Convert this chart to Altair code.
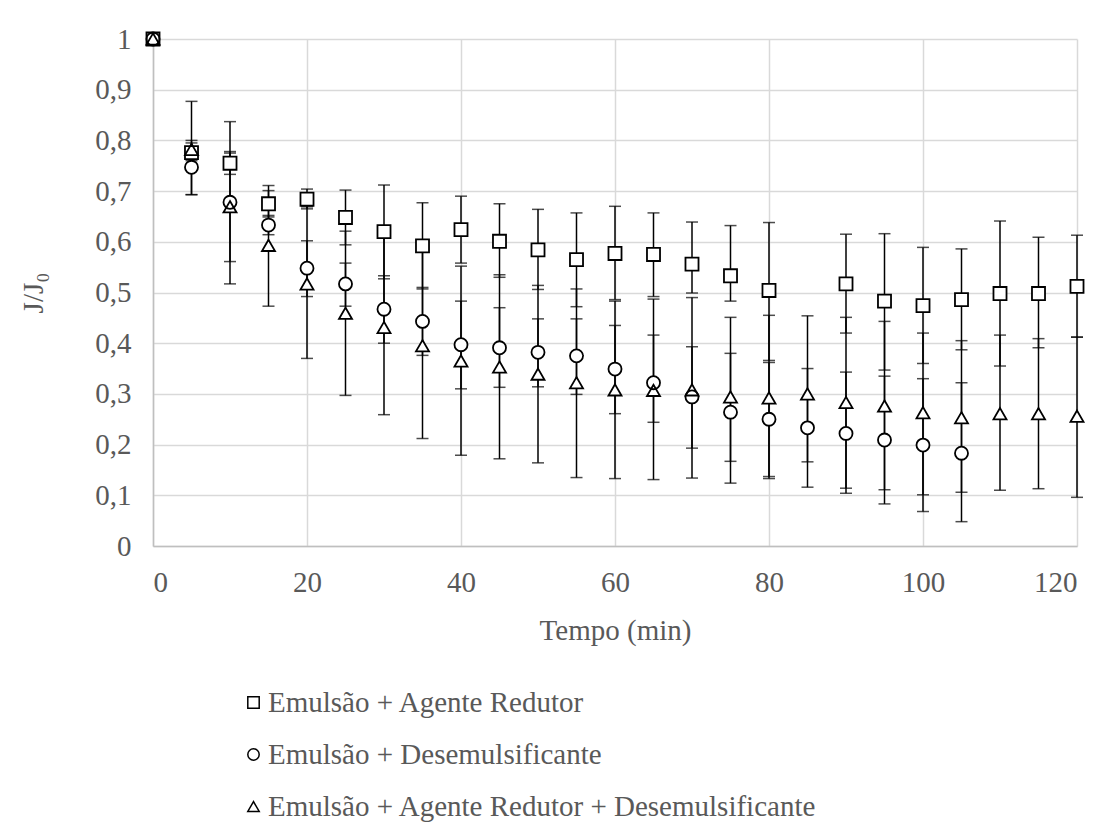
import altair as alt
import pandas as pd

series_names = [
    "Emulsão + Agente Redutor",
    "Emulsão + Desemulsificante",
    "Emulsão + Agente Redutor + Desemulsificante",
]

# Series 1: Emulsão + Agente Redutor (squares)
t1 = [0, 5, 10, 15, 20, 25, 30, 35, 40, 45, 50, 55, 60, 65, 70, 75, 80, 90, 95, 100, 105, 110, 115, 120]
v1 = [1.0, 0.776, 0.755, 0.675, 0.684, 0.648, 0.620, 0.592, 0.624, 0.601, 0.584, 0.565, 0.577, 0.575, 0.556, 0.533, 0.504, 0.517, 0.483, 0.474, 0.486, 0.498, 0.498, 0.512]
lo1 = [1.0, 0.760, 0.733, 0.649, 0.665, 0.594, 0.527, 0.507, 0.558, 0.530, 0.506, 0.472, 0.486, 0.492, 0.499, 0.483, 0.366, 0.420, 0.347, 0.360, 0.387, 0.355, 0.391, 0.412]
hi1 = [1.0, 0.795, 0.775, 0.701, 0.704, 0.702, 0.712, 0.677, 0.690, 0.675, 0.664, 0.657, 0.670, 0.657, 0.639, 0.632, 0.638, 0.615, 0.616, 0.589, 0.586, 0.641, 0.609, 0.613]

# Series 2: Emulsão + Desemulsificante (circles)
t2 = [0, 5, 10, 15, 20, 25, 30, 35, 40, 45, 50, 55, 60, 65, 70, 75, 80, 85, 90, 95, 100, 105]
v2 = [1.0, 0.747, 0.678, 0.633, 0.548, 0.517, 0.467, 0.443, 0.397, 0.391, 0.382, 0.375, 0.349, 0.322, 0.294, 0.264, 0.250, 0.233, 0.222, 0.209, 0.199, 0.183]
lo2 = [1.0, 0.693, 0.517, 0.614, 0.492, 0.473, 0.400, 0.376, 0.310, 0.313, 0.314, 0.299, 0.261, 0.244, 0.193, 0.167, 0.133, 0.116, 0.104, 0.083, 0.068, 0.048]
hi2 = [1.0, 0.800, 0.837, 0.652, 0.602, 0.558, 0.533, 0.510, 0.483, 0.470, 0.448, 0.448, 0.435, 0.416, 0.393, 0.380, 0.362, 0.350, 0.343, 0.335, 0.330, 0.322]

# Series 3: Emulsão + Agente Redutor + Desemulsificante (triangles)
t3 = [0, 5, 10, 15, 20, 25, 30, 35, 40, 45, 50, 55, 60, 65, 70, 75, 80, 85, 90, 95, 100, 105, 110, 115, 120]
v3 = [1.0, 0.782, 0.669, 0.593, 0.517, 0.459, 0.431, 0.395, 0.365, 0.353, 0.339, 0.322, 0.308, 0.307, 0.308, 0.294, 0.292, 0.300, 0.283, 0.276, 0.263, 0.253, 0.261, 0.261, 0.256]
lo3 = [1.0, 0.693, 0.561, 0.473, 0.370, 0.297, 0.259, 0.212, 0.179, 0.172, 0.164, 0.135, 0.133, 0.131, 0.134, 0.124, 0.137, 0.166, 0.114, 0.111, 0.101, 0.106, 0.110, 0.113, 0.096]
hi3 = [1.0, 0.877, 0.778, 0.711, 0.669, 0.621, 0.607, 0.583, 0.552, 0.535, 0.514, 0.507, 0.483, 0.487, 0.490, 0.451, 0.455, 0.454, 0.451, 0.443, 0.420, 0.405, 0.416, 0.409, 0.412]

x_ticks = [0, 20, 40, 60, 80, 100, 120]
y_ticks = [0, 0.1, 0.2, 0.3, 0.4, 0.5, 0.6, 0.7, 0.8, 0.9, 1.0]

rows = []
for name, ts, vs, los, his in [
    (series_names[0], t1, v1, lo1, hi1),
    (series_names[1], t2, v2, lo2, hi2),
    (series_names[2], t3, v3, lo3, hi3),
]:
    for t, v, lo, hi in zip(ts, vs, los, his):
        rows.append({"serie": name, "t": t, "v": v, "lo": lo, "hi": hi})
df = pd.DataFrame(rows)

FONT = "Liberation Serif"
GRAY = "#595959"
FS = 29

xscale = alt.Scale(domain=[0, 120], nice=False, zero=True)
yscale = alt.Scale(domain=[0, 1], nice=False)
shape_scale = alt.Scale(domain=series_names, range=["square", "circle", "triangle-up"])

x_enc = alt.X(
    "t:Q", scale=xscale,
    axis=alt.Axis(values=x_ticks, title="Tempo (min)", grid=True, ticks=False,
                  labelPadding=22, titlePadding=19, domain=True,
                  domainColor="#bfbfbf", domainWidth=1.5),
)
y_enc = alt.Y(
    "v:Q", scale=yscale,
    axis=alt.Axis(values=y_ticks, title="J/J₀", grid=True, ticks=False,
                  labelPadding=22, titlePadding=46, domain=True,
                  domainColor="#bfbfbf", domainWidth=1.5,
                  labelExpr="datum.value == 0 ? '0' : (datum.value == 1 ? '1' : replace(format(datum.value, '.1f'), '.', ','))"),
)

base = alt.Chart(df)
has_err = "datum.hi > datum.lo"

err = base.transform_filter(has_err).mark_rule(color="black", strokeWidth=1.5).encode(
    x=x_enc, y=alt.Y("lo:Q", scale=yscale), y2="hi:Q"
)
cap_lo = base.transform_filter(has_err).mark_tick(
    color="black", thickness=1.5, size=12, orient="horizontal"
).encode(x=alt.X("t:Q", scale=xscale), y=alt.Y("lo:Q", scale=yscale))
cap_hi = base.transform_filter(has_err).mark_tick(
    color="black", thickness=1.5, size=12, orient="horizontal"
).encode(x=alt.X("t:Q", scale=xscale), y=alt.Y("hi:Q", scale=yscale))

# white interior of the markers (no legend)
fill_pts = base.mark_point(filled=True, color="white", opacity=1, size=170).encode(
    x=alt.X("t:Q", scale=xscale),
    y=alt.Y("v:Q", scale=yscale),
    shape=alt.Shape("serie:N", scale=shape_scale, legend=None),
)

# black outlines of the markers, with the legend
points = base.mark_point(filled=False, color="black", strokeWidth=1.8, opacity=1, size=170).encode(
    x=alt.X("t:Q", scale=xscale),
    y=alt.Y("v:Q", scale=yscale),
    shape=alt.Shape(
        "serie:N", scale=shape_scale,
        legend=alt.Legend(
            title=None, orient="none", legendX=86, legendY=649, padding=0,
            labelFont=FONT, labelFontSize=FS, labelColor=GRAY,
            symbolSize=130, symbolStrokeWidth=1.5, rowPadding=22,
            labelOffset=0, labelLimit=900,
        ),
    ),
)

chart = alt.layer(err, cap_lo, cap_hi, fill_pts, points).encode(x=x_enc, y=y_enc).resolve_scale(
    shape="independent"
).resolve_legend(shape="independent").properties(
    width=924, height=507,
    autosize=alt.AutoSizeParams(type="none"),
    padding={"left": 145, "top": 31, "right": 12, "bottom": 285},
).configure_view(stroke=None).configure_axis(
    labelFont=FONT, labelFontSize=FS, labelColor=GRAY,
    titleFont=FONT, titleFontSize=FS, titleColor=GRAY, titleFontWeight="normal",
    gridColor="#d9d9d9", gridWidth=1.5,
).configure_axisY(titleAngle=-90)

chart.save("out.html", embed_options={"renderer": "svg", "actions": False})
